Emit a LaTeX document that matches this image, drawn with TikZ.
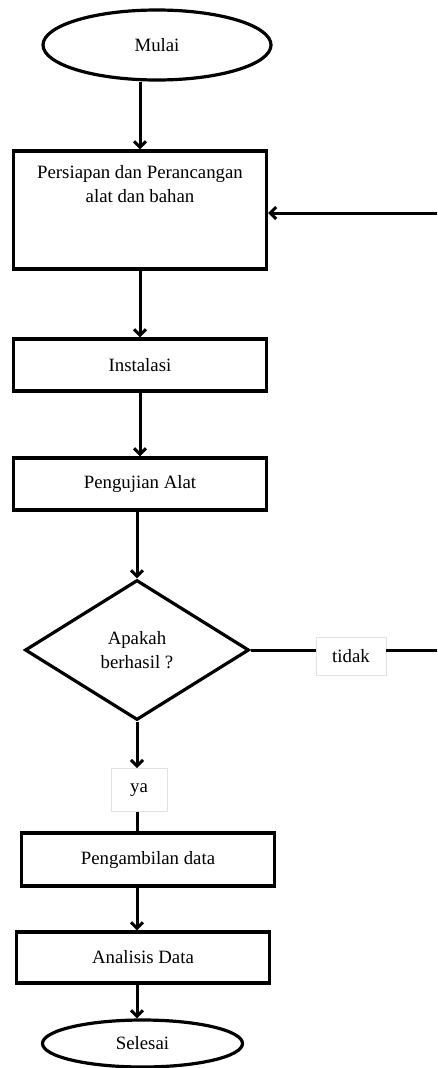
\documentclass[tikz,border=0pt]{standalone}
\usepackage{fontspec}
\setmainfont{Liberation Serif}
\usetikzlibrary{arrows.meta,positioning,shapes.geometric}
\definecolor{Ink}{HTML}{000000}
\definecolor{Faint}{HTML}{E2E2E2}
\tikzset{
  lnk/.style={draw=Ink,line width=3pt},
  flow/.style={lnk,-{Straight Barb[length=6pt,width=12pt]}},
  prc/.style={rectangle,draw=Ink,line width=3.2pt,minimum width=253pt,minimum height=52pt,
              font=\fontsize{18.8}{24}\selectfont,align=center,inner sep=4pt},
  trm/.style={ellipse,draw=Ink,line width=3.2pt,font=\fontsize{18.8}{24}\selectfont,inner sep=0pt},
  qst/.style={diamond,draw=Ink,line width=3.2pt,minimum width=224pt,minimum height=140pt,
              inner sep=0pt,align=center,font=\fontsize{18.8}{24}\selectfont},
  lbl/.style={rectangle,draw=Faint,line width=0.8pt,fill=white,inner sep=0pt,font=\fontsize{18.8}{24}\selectfont},
}
\begin{document}
\begin{tikzpicture}[x=1pt,y=-1pt]
\useasboundingbox (0,0) rectangle (437,1068);
% Main column, top to bottom.
\node[trm,minimum width=228pt,minimum height=70pt] (mulai) at (157,45) {Mulai};
\node[prc,minimum height=118pt,text depth=53pt] (prep) at (140,210) {Persiapan dan Perancangan\\alat dan bahan};
\node[prc] (inst) at (140,365) {Instalasi};
\node[prc] (uji) at (140,484) {Pengujian Alat};
\node[qst] (dec) at (137,650) {Apakah\\berhasil ?};
\node[lbl,minimum width=70pt,minimum height=38pt] (tidak) at (351,656) {tidak};
\node[lbl,minimum width=56pt,minimum height=43pt] (ya) at (139,790) {ya};
\node[prc,minimum height=53pt] (peng) at (148,859.5) {Pengambilan data};
\node[prc,minimum height=51pt] (anal) at (143,957.5) {Analisis Data};
\node[trm,minimum width=200pt,minimum height=47pt] (sel) at (142.5,1043.5) {Selesai};
% Loop-back ends leave the picture at its right edge.
\coordinate (rin) at (437,213);
\coordinate (rout) at (437,650);
\draw[flow] (mulai.south -| prep.north) -- (prep.north);
\draw[flow] (prep) -- (inst);
\draw[flow] (inst) -- (uji);
\draw[flow] (uji.south -| dec.north) -- (dec.north);
\draw[lnk] (dec.east) -- (dec.east -| tidak.west);
\draw[lnk] (tidak.east |- rout) -- (rout);
\draw[flow] (rin) -- (prep.east |- rin);
\draw[flow] (dec.south) -- (dec.south |- ya.north);
\draw[lnk] (ya.south -| dec.south) -- (peng.north -| dec.south);
\draw[flow] (peng.south -| dec.south) -- (anal.north -| dec.south);
\draw[flow] (anal.south -| dec.south) -- (sel.north -| dec.south);
\end{tikzpicture}
\end{document}
